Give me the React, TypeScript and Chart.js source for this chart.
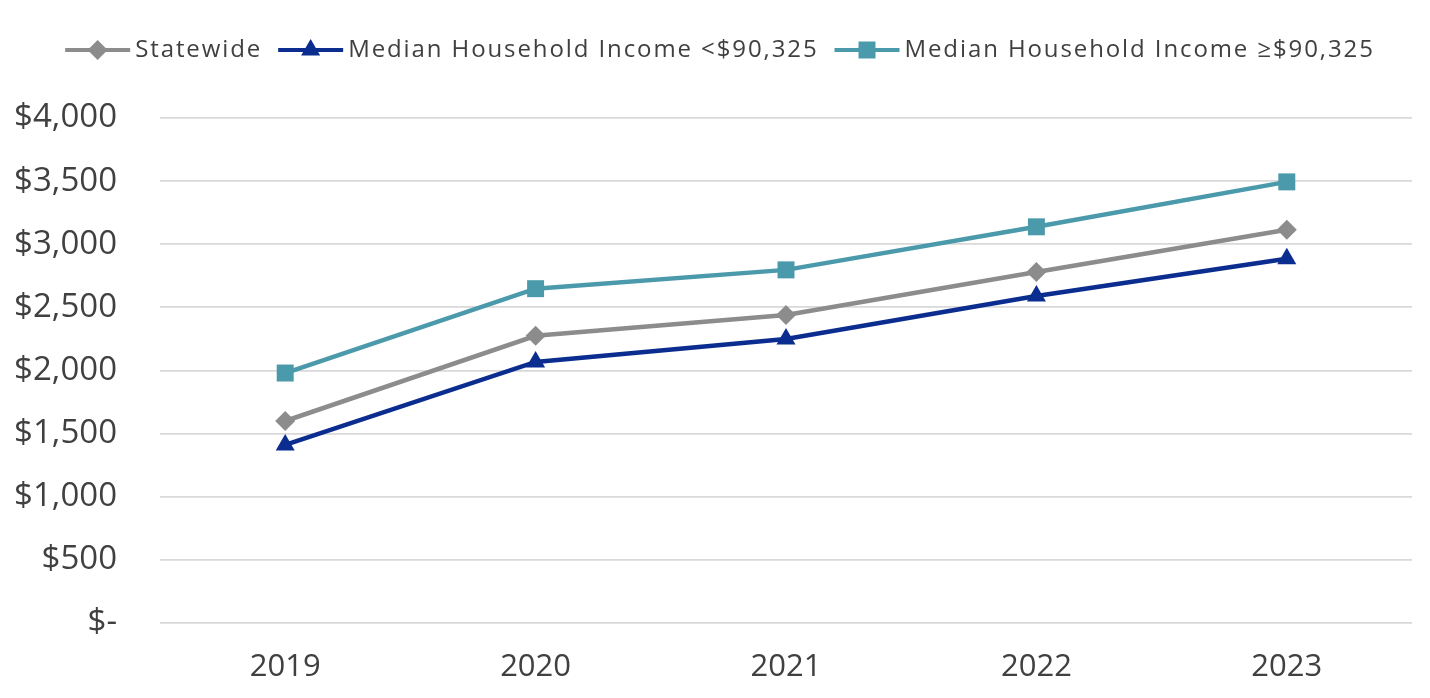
import React, { useEffect, useRef } from 'react';
import { Chart, registerables } from 'chart.js';

Chart.register(...registerables);

const years = ['2019', '2020', '2021', '2022', '2023'];
const statewide = [1600, 2275, 2440, 2780, 3115];
const lowIncome = [1410, 2068, 2250, 2590, 2885];
const highIncome = [1980, 2648, 2797, 3138, 3494];

const seriesNames = ['Statewide', 'Median Household Income <$90,325', 'Median Household Income ≥$90,325'];
const seriesColors = ['#8c8c8c', '#0b2d8f', '#4a9aab'];
const markerStyles = ['rectRot', 'triangle', 'rect'];
const markerRadius = [10, 11, 12];

const yMin = 0;
const yMax = 4000;
const yStep = 500;

const FONT = '"Open Sans", "DejaVu Sans", sans-serif';
const TEXT_COLOR = '#404040';

function drawMarker(ctx: CanvasRenderingContext2D, style: string, x: number, y: number, r: number, color: string) {
  ctx.save();
  ctx.fillStyle = color;
  ctx.beginPath();
  if (style === 'rect') {
    const s = Math.SQRT1_2 * r;
    ctx.rect(x - s, y - s, 2 * s, 2 * s);
  } else if (style === 'rectRot') {
    ctx.moveTo(x, y - r);
    ctx.lineTo(x + r, y);
    ctx.lineTo(x, y + r);
    ctx.lineTo(x - r, y);
    ctx.closePath();
  } else {
    const h = (Math.sqrt(3) / 2) * r;
    ctx.moveTo(x, y - r);
    ctx.lineTo(x + h, y + r / 2);
    ctx.lineTo(x - h, y + r / 2);
    ctx.closePath();
  }
  ctx.fill();
  ctx.restore();
}

const lineLegend = {
  id: 'lineLegend',
  afterDraw(chart: any) {
    const ctx: any = chart.ctx;
    ctx.save();
    ctx.font = `24px ${FONT}`;
    if ('letterSpacing' in ctx) ctx.letterSpacing = '1.9px';
    const lineLen = 65;
    const gapText = 5;
    const gapItem = 16;
    const labels: string[] = chart.data.datasets.map((d: any) => d.label);
    const widths = labels.map((l) => lineLen + gapText + ctx.measureText(l).width);
    const total = widths.reduce((a, b) => a + b, 0) + gapItem * (labels.length - 1);
    let x = 720 - total / 2;
    const y = 50;
    chart.data.datasets.forEach((ds: any, i: number) => {
      ctx.strokeStyle = ds.borderColor;
      ctx.lineWidth = 4;
      ctx.beginPath();
      ctx.moveTo(x, y);
      ctx.lineTo(x + lineLen, y);
      ctx.stroke();
      drawMarker(ctx, ds.pointStyle, x + lineLen / 2, y, ds.pointRadius, ds.borderColor);
      ctx.fillStyle = TEXT_COLOR;
      ctx.textAlign = 'left';
      ctx.textBaseline = 'middle';
      ctx.fillText(ds.label, x + lineLen + gapText, y);
      x += widths[i] + gapItem;
    });
    ctx.restore();
  },
};

export default function App() {
  const ref = useRef<HTMLCanvasElement>(null);

  useEffect(() => {
    if (!ref.current) return;
    const seriesValues = [statewide, lowIncome, highIncome];
    const chart = new Chart(ref.current, {
      type: 'line',
      data: {
        labels: years,
        datasets: seriesValues.map((vals, i) => ({
          label: seriesNames[i],
          data: vals,
          borderColor: seriesColors[i],
          backgroundColor: seriesColors[i],
          borderWidth: 4.5,
          pointStyle: markerStyles[i] as any,
          pointRadius: markerRadius[i],
          pointHoverRadius: markerRadius[i],
          pointBorderWidth: 0,
          pointBackgroundColor: seriesColors[i],
          tension: 0,
          fill: false,
        })),
      },
      options: {
        animation: false,
        responsive: true,
        maintainAspectRatio: false,
        layout: { padding: { left: 0, top: 118, right: 18, bottom: 0 } },
        plugins: {
          legend: { display: false },
          tooltip: { enabled: false },
        },
        scales: {
          x: {
            offset: true,
            grid: { display: false, drawTicks: false },
            border: { display: false },
            ticks: {
              color: TEXT_COLOR,
              font: { family: FONT, size: 31 },
              padding: 26,
              maxRotation: 0,
            },
            afterFit(scale: any) {
              scale.height = 75;
            },
          },
          y: {
            min: yMin,
            max: yMax,
            grid: { color: '#d9d9d9', lineWidth: 1.8, drawTicks: false },
            border: { display: false },
            ticks: {
              stepSize: yStep,
              color: TEXT_COLOR,
              font: { family: FONT, size: 33 },
              padding: 43,
              callback: (v: any) => (Number(v) === 0 ? '$-' : '$' + Number(v).toLocaleString('en-US')),
            },
            afterFit(scale: any) {
              scale.width = 160;
            },
          },
        },
      },
      plugins: [lineLegend],
    });
    return () => chart.destroy();
  }, []);

  return (
    <div style={{ position: 'absolute', left: 0, top: 0, width: 1430, height: 698, background: '#fff' }}>
      <canvas ref={ref} />
    </div>
  );
}
